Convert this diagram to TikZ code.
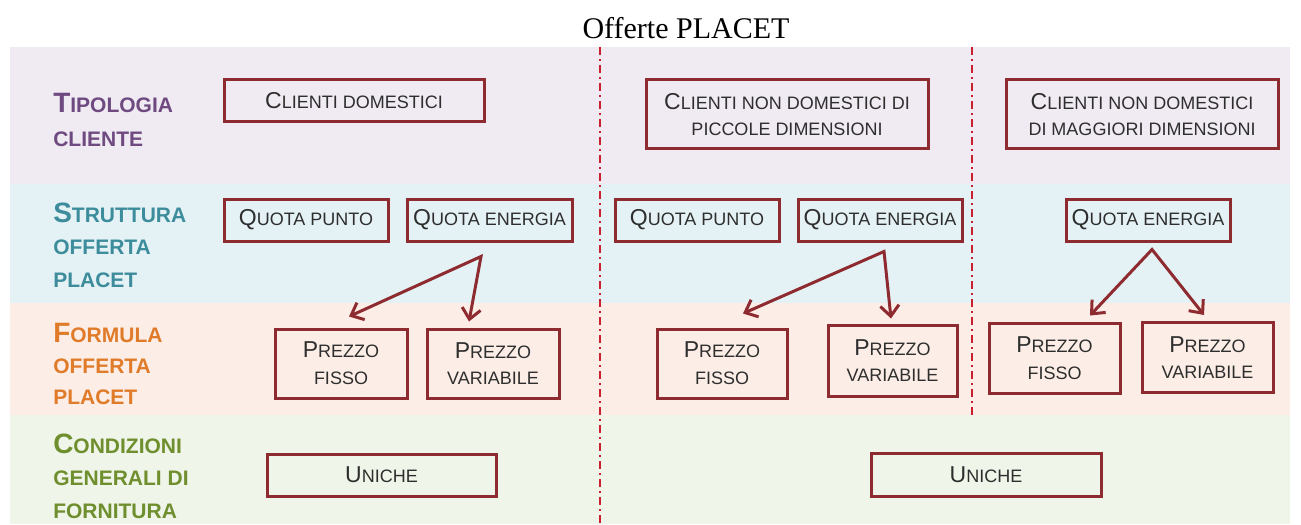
\documentclass[tikz,border=0pt]{standalone}
\usepackage{fontspec}
\usetikzlibrary{arrows.meta,calc}
\newfontfamily\arialf{Liberation Sans}
\newfontfamily\titlef{Liberation Serif}
\definecolor{bandA}{HTML}{F0EAF3}
\definecolor{bandB}{HTML}{E5F2F5}
\definecolor{bandC}{HTML}{FCEEE6}
\definecolor{bandD}{HTML}{EFF5E8}
\definecolor{boxred}{HTML}{8E2B30}
\definecolor{dashred}{HTML}{C8202E}
\definecolor{txtgray}{HTML}{2E2E2E}
\definecolor{labpurple}{HTML}{6E4A80}
\definecolor{labteal}{HTML}{3C8C9C}
\definecolor{laborange}{HTML}{E07B2A}
\definecolor{labgreen}{HTML}{6F8F2F}
\newcommand\Bsc[2]{{\fontsize{17.25}{20}\selectfont #1}#2}
\newcommand\Lsc[2]{{\fontsize{21}{24}\selectfont #1}#2}
\tikzset{
  bx/.style={draw=boxred, line width=2.25pt, inner sep=0pt, align=center,
    text=txtgray, font=\arialf\fontsize{13.5}{20}\selectfont},
  lab/.style={anchor=west, align=left, inner sep=0pt, font=\arialf\bfseries\fontsize{15.75}{24.4}\selectfont},
  sep/.style={draw=dashred, line width=1.5pt, dash pattern=on 6pt off 3pt on 1.5pt off 3pt},
  arr/.style={draw=boxred, line width=2.25pt,
    {Straight Barb[length=8pt,width=14pt]}-{Straight Barb[length=8pt,width=14pt]}},
}
\begin{document}
\begin{tikzpicture}[x=0.75pt,y=-0.75pt]
\useasboundingbox (0,0) rectangle (1301,524);
% bands
\fill[bandA] (10,47) rectangle (1290,184);
\fill[bandB] (10,184) rectangle (1290,303);
\fill[bandC] (10,303) rectangle (1290,415);
\fill[bandD] (10,415) rectangle (1290,524);
% title
\node[anchor=base, inner sep=0pt, font=\titlef\fontsize{22.5}{24}\selectfont] (title) at (686,39) {Offerte PLACET};
% separators
\coordinate (s1a) at (600,47); \coordinate (s1b) at (600,524);
\coordinate (s2a) at (972,47); \coordinate (s2b) at (972,417);
\draw[sep] (s1a) -- (s1b);
\draw[sep] (s2a) -- (s2b);
% row labels
\node[lab, text=labpurple, font=\arialf\bfseries\fontsize{15.75}{25.5}\selectfont] (l1) at (53,120) {\Lsc{T}{IPOLOGIA}\\CLIENTE};
\node[lab, text=labteal] (l2) at (53,245) {\Lsc{S}{TRUTTURA}\\OFFERTA\\PLACET};
\node[lab, text=laborange, font=\arialf\bfseries\fontsize{15.75}{23}\selectfont] (l3) at (53,364) {\Lsc{F}{ORMULA}\\OFFERTA\\PLACET};
\node[lab, text=labgreen] (l4) at (53,476) {\Lsc{C}{ONDIZIONI}\\GENERALI DI\\FORNITURA};
% row 1
\node[bx, minimum width=195pt, minimum height=31.5pt] (cd) at (354,101) {\Bsc{C}{LIENTI DOMESTICI}};
\node[bx, minimum width=211.5pt, minimum height=51.75pt] (cnp) at (787,114.5) {\Bsc{C}{LIENTI NON DOMESTICI DI}\\PICCOLE DIMENSIONI};
\node[bx, minimum width=204pt, minimum height=51.75pt] (cnm) at (1142,114.5) {\Bsc{C}{LIENTI NON DOMESTICI}\\DI MAGGIORI DIMENSIONI};
% row 2
\node[bx, minimum width=123pt, minimum height=31.5pt] (qp1) at (306,220) {\Bsc{Q}{UOTA PUNTO}};
\node[bx, minimum width=123.75pt, minimum height=31.5pt] (qe1) at (489.5,220) {\Bsc{Q}{UOTA ENERGIA}};
\node[bx, minimum width=123pt, minimum height=31.5pt] (qp2) at (697,220) {\Bsc{Q}{UOTA PUNTO}};
\node[bx, minimum width=123pt, minimum height=31.5pt] (qe2) at (880,220) {\Bsc{Q}{UOTA ENERGIA}};
\node[bx, minimum width=123pt, minimum height=31.5pt] (qe3) at (1148,220) {\Bsc{Q}{UOTA ENERGIA}};
% row 3
\node[bx, minimum width=99pt, minimum height=51.75pt] (pf1) at (341,363.5) {\Bsc{P}{REZZO}\\FISSO};
\node[bx, minimum width=99pt, minimum height=51.75pt] (pv1) at (493,363.5) {\Bsc{P}{REZZO}\\VARIABILE};
\node[bx, minimum width=97.5pt, minimum height=51.75pt] (pf2) at (722,363.5) {\Bsc{P}{REZZO}\\FISSO};
\node[bx, minimum width=96.75pt, minimum height=53.25pt] (pv2) at (892.5,360.5) {\Bsc{P}{REZZO}\\VARIABILE};
\node[bx, minimum width=98.25pt, minimum height=52.5pt] (pf3) at (1054.5,358) {\Bsc{P}{REZZO}\\FISSO};
\node[bx, minimum width=98.25pt, minimum height=52.5pt] (pv3) at (1207.5,357.5) {\Bsc{P}{REZZO}\\VARIABILE};
% row 4
\node[bx, minimum width=171.75pt, minimum height=31.5pt] (u1) at (381.5,475) {\Bsc{U}{NICHE}};
\node[bx, minimum width=172.5pt, minimum height=32.25pt] (u2) at (986,474.5) {\Bsc{U}{NICHE}};
% arrows
\coordinate (a1) at ($(qe1.south)+(-8.5,14)$);
\coordinate (t1a) at ($(pf1.north)+(8,-11)$);
\coordinate (t1b) at ($(pv1.north)+(-24,-6)$);
\draw[arr] (t1a) -- (a1) -- (t1b);
\coordinate (a2) at ($(qe2.south)+(4,9)$);
\coordinate (t2a) at ($(pf2.north)+(21,-14)$);
\coordinate (t2b) at ($(pv2.north)+(-1.5,-5)$);
\draw[arr] (t2a) -- (a2) -- (t2b);
\coordinate (a3) at ($(qe3.south)+(4,7)$);
\coordinate (t3a) at ($(pf3.north)+(35.5,-6)$);
\coordinate (t3b) at ($(pv3.north)+(-3.5,-6)$);
\draw[arr] (t3a) -- (a3) -- (t3b);
\end{tikzpicture}
\end{document}
